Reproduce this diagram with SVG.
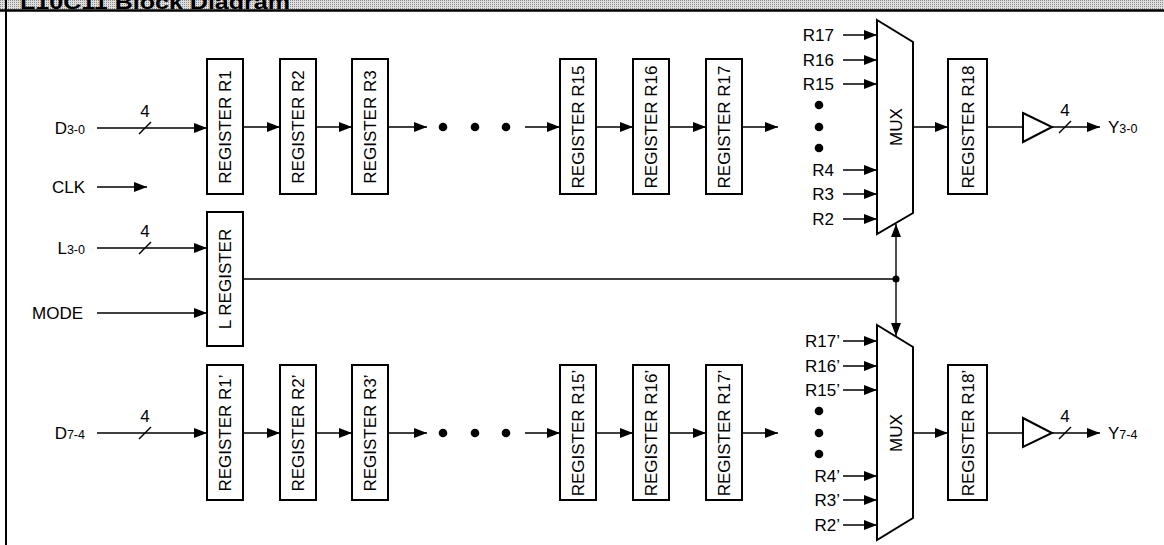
<svg xmlns="http://www.w3.org/2000/svg" width="1164" height="545" viewBox="0 0 1164 545">
<defs>
<style>
.t{font-family:"Liberation Sans",Arial,sans-serif;font-size:17px;fill:#000}
.s{font-size:12.5px}
.box{fill:#fff;stroke:#000;stroke-width:2}
.ln{stroke:#000;stroke-width:1.4;fill:none}
.ar{stroke:#000;stroke-width:1.4;fill:none;marker-end:url(#ah)}
.dot{fill:#000}
</style>
<marker id="ah" markerWidth="13" markerHeight="10" refX="13" refY="5" orient="auto" markerUnits="userSpaceOnUse"><path d="M0,0 L13,5 L0,10 z" fill="#000"/></marker>
<pattern id="dither" width="2" height="2" patternUnits="userSpaceOnUse"><rect width="2" height="2" fill="#dedede"/><rect width="1" height="1" fill="#8c8c8c"/></pattern>
<clipPath id="tclip"><rect x="0" y="0" width="1164" height="9.5"/></clipPath>
</defs>
<rect width="1164" height="545" fill="#fff"/>
<g id="frame">
<rect x="0" y="0" width="1164" height="10" fill="url(#dither)"/>
<text x="20" y="9" clip-path="url(#tclip)" style="font-family:'Liberation Sans',Arial,sans-serif;font-weight:bold;font-size:21px" textLength="270" lengthAdjust="spacingAndGlyphs">L10C11 Block Diagram</text>
<line x1="0" y1="10.5" x2="1164" y2="10.5" stroke="#000" stroke-width="2.5"/>
<line x1="6" y1="0" x2="6" y2="545" stroke="#000" stroke-width="2"/>
</g>
<g id="connectors">
<line class="ar" x1="97" y1="128" x2="207" y2="128"/>
<line class="ln" x1="139" y1="134" x2="151" y2="122"/>
<line class="ar" x1="97" y1="187" x2="147" y2="187"/>
<line class="ar" x1="97" y1="248" x2="207" y2="248"/>
<line class="ln" x1="139" y1="254" x2="151" y2="242"/>
<line class="ar" x1="97" y1="313" x2="207" y2="313"/>
<line class="ar" x1="97" y1="433" x2="207" y2="433"/>
<line class="ln" x1="139" y1="439" x2="151" y2="427"/>
<line class="ar" x1="244" y1="127" x2="280" y2="127"/>
<line class="ar" x1="317" y1="127" x2="352" y2="127"/>
<line class="ar" x1="389" y1="127" x2="427" y2="127"/>
<line class="ar" x1="525" y1="127" x2="560" y2="127"/>
<line class="ar" x1="597" y1="127" x2="633" y2="127"/>
<line class="ar" x1="670" y1="127" x2="706" y2="127"/>
<line class="ar" x1="743" y1="127" x2="778" y2="127"/>
<line class="ar" x1="244" y1="433" x2="280" y2="433"/>
<line class="ar" x1="317" y1="433" x2="352" y2="433"/>
<line class="ar" x1="389" y1="433" x2="427" y2="433"/>
<line class="ar" x1="525" y1="433" x2="560" y2="433"/>
<line class="ar" x1="597" y1="433" x2="633" y2="433"/>
<line class="ar" x1="670" y1="433" x2="706" y2="433"/>
<line class="ar" x1="743" y1="433" x2="778" y2="433"/>
<line class="ar" x1="843" y1="35" x2="877" y2="35"/>
<line class="ar" x1="843" y1="60" x2="877" y2="60"/>
<line class="ar" x1="843" y1="84" x2="877" y2="84"/>
<line class="ar" x1="843" y1="170" x2="877" y2="170"/>
<line class="ar" x1="843" y1="194" x2="877" y2="194"/>
<line class="ar" x1="843" y1="219" x2="877" y2="219"/>
<line class="ar" x1="843" y1="341" x2="877" y2="341"/>
<line class="ar" x1="843" y1="366" x2="877" y2="366"/>
<line class="ar" x1="843" y1="390" x2="877" y2="390"/>
<line class="ar" x1="843" y1="476" x2="877" y2="476"/>
<line class="ar" x1="843" y1="500" x2="877" y2="500"/>
<line class="ar" x1="843" y1="525" x2="877" y2="525"/>
<line class="ar" x1="913" y1="127" x2="948" y2="127"/>
<line class="ar" x1="913" y1="433" x2="948" y2="433"/>
<line class="ln" x1="987" y1="127" x2="1023" y2="127"/>
<line class="ln" x1="987" y1="433" x2="1023" y2="433"/>
<line class="ar" x1="1052" y1="127" x2="1100" y2="127"/>
<line class="ln" x1="1059" y1="133" x2="1071" y2="121"/>
<line class="ar" x1="1052" y1="433" x2="1100" y2="433"/>
<line class="ln" x1="1059" y1="439" x2="1071" y2="427"/>
<line class="ln" x1="243" y1="279" x2="896" y2="279"/>
<line class="ar" x1="896" y1="279" x2="896" y2="224"/>
<line class="ar" x1="896" y1="279" x2="896" y2="336"/>
<circle class="dot" cx="896" cy="279" r="3.5"/>
</g>
<g id="inputs">
<text class="t" x="85" y="134" text-anchor="end">D<tspan class="s">3-0</tspan></text>
<text class="t" x="145" y="117" text-anchor="middle">4</text>
<text class="t" x="85" y="193" text-anchor="end">CLK</text>
<text class="t" x="85" y="254" text-anchor="end">L<tspan class="s">3-0</tspan></text>
<text class="t" x="145" y="237" text-anchor="middle">4</text>
<text class="t" x="83" y="319" text-anchor="end">MODE</text>
<text class="t" x="85" y="439" text-anchor="end">D<tspan class="s">7-4</tspan></text>
<text class="t" x="145" y="422" text-anchor="middle">4</text>
</g>
<g id="reg-L"><rect class="box" x="207" y="212" width="36" height="134"/><text class="t" transform="translate(225,279) rotate(-90)" text-anchor="middle" dy="0.36em">L REGISTER</text></g>
<g id="reg-R1"><rect class="box" x="207" y="59" width="36" height="135"/><text class="t" transform="translate(225,127) rotate(-90)" text-anchor="middle" dy="0.36em">REGISTER R1</text></g>
<g id="reg-R2"><rect class="box" x="280" y="59" width="36" height="135"/><text class="t" transform="translate(298,127) rotate(-90)" text-anchor="middle" dy="0.36em">REGISTER R2</text></g>
<g id="reg-R3"><rect class="box" x="352" y="59" width="36" height="135"/><text class="t" transform="translate(370,127) rotate(-90)" text-anchor="middle" dy="0.36em">REGISTER R3</text></g>
<g id="dots-top"><circle class="dot" cx="443" cy="127" r="4.3"/><circle class="dot" cx="475" cy="127" r="4.3"/><circle class="dot" cx="506" cy="127" r="4.3"/></g>
<g id="reg-R15"><rect class="box" x="560" y="59" width="36" height="135"/><text class="t" transform="translate(578,127) rotate(-90)" text-anchor="middle" dy="0.36em">REGISTER R15</text></g>
<g id="reg-R16"><rect class="box" x="633" y="59" width="36" height="135"/><text class="t" transform="translate(651,127) rotate(-90)" text-anchor="middle" dy="0.36em">REGISTER R16</text></g>
<g id="reg-R17"><rect class="box" x="706" y="59" width="36" height="135"/><text class="t" transform="translate(724,127) rotate(-90)" text-anchor="middle" dy="0.36em">REGISTER R17</text></g>
<g id="mux-top">
<polygon class="box" points="877,20 913,42 913,213 877,234"/>
<text class="t" transform="translate(896,127) rotate(-90)" text-anchor="middle" dy="0.36em">MUX</text>
<text class="t" x="834" y="41" text-anchor="end">R17</text>
<text class="t" x="834" y="66" text-anchor="end">R16</text>
<text class="t" x="834" y="90" text-anchor="end">R15</text>
<circle class="dot" cx="819" cy="105" r="4.3"/><circle class="dot" cx="819" cy="127" r="4.3"/><circle class="dot" cx="819" cy="148" r="4.3"/>
<text class="t" x="834" y="176" text-anchor="end">R4</text>
<text class="t" x="834" y="200" text-anchor="end">R3</text>
<text class="t" x="834" y="225" text-anchor="end">R2</text>
</g>
<g id="reg-R18"><rect class="box" x="948" y="59" width="39" height="135"/><text class="t" transform="translate(967.5,127) rotate(-90)" text-anchor="middle" dy="0.36em">REGISTER R18</text></g>
<g id="buf-top"><polygon class="box" points="1023,113 1052,127 1023,142"/></g>
<g id="out-top"><text class="t" x="1065" y="116" text-anchor="middle">4</text><text class="t" x="1108" y="133">Y<tspan class="s">3-0</tspan></text></g>
<g id="reg-R1p"><rect class="box" x="207" y="365" width="36" height="135"/><text class="t" transform="translate(225,433) rotate(-90)" text-anchor="middle" dy="0.36em">REGISTER R1’</text></g>
<g id="reg-R2p"><rect class="box" x="280" y="365" width="36" height="135"/><text class="t" transform="translate(298,433) rotate(-90)" text-anchor="middle" dy="0.36em">REGISTER R2’</text></g>
<g id="reg-R3p"><rect class="box" x="352" y="365" width="36" height="135"/><text class="t" transform="translate(370,433) rotate(-90)" text-anchor="middle" dy="0.36em">REGISTER R3’</text></g>
<g id="dots-bottom"><circle class="dot" cx="443" cy="433" r="4.3"/><circle class="dot" cx="475" cy="433" r="4.3"/><circle class="dot" cx="506" cy="433" r="4.3"/></g>
<g id="reg-R15p"><rect class="box" x="560" y="365" width="36" height="135"/><text class="t" transform="translate(578,433) rotate(-90)" text-anchor="middle" dy="0.36em">REGISTER R15’</text></g>
<g id="reg-R16p"><rect class="box" x="633" y="365" width="36" height="135"/><text class="t" transform="translate(651,433) rotate(-90)" text-anchor="middle" dy="0.36em">REGISTER R16’</text></g>
<g id="reg-R17p"><rect class="box" x="706" y="365" width="36" height="135"/><text class="t" transform="translate(724,433) rotate(-90)" text-anchor="middle" dy="0.36em">REGISTER R17’</text></g>
<g id="mux-bottom">
<polygon class="box" points="877,325 913,347 913,518 877,540"/>
<text class="t" transform="translate(896,433) rotate(-90)" text-anchor="middle" dy="0.36em">MUX</text>
<text class="t" x="840" y="347" text-anchor="end">R17’</text>
<text class="t" x="840" y="372" text-anchor="end">R16’</text>
<text class="t" x="840" y="396" text-anchor="end">R15’</text>
<circle class="dot" cx="819" cy="411" r="4.3"/><circle class="dot" cx="819" cy="433" r="4.3"/><circle class="dot" cx="819" cy="454" r="4.3"/>
<text class="t" x="840" y="482" text-anchor="end">R4’</text>
<text class="t" x="840" y="506" text-anchor="end">R3’</text>
<text class="t" x="840" y="531" text-anchor="end">R2’</text>
</g>
<g id="reg-R18p"><rect class="box" x="948" y="365" width="39" height="135"/><text class="t" transform="translate(967.5,433) rotate(-90)" text-anchor="middle" dy="0.36em">REGISTER R18’</text></g>
<g id="buf-bottom"><polygon class="box" points="1023,418 1052,433 1023,447"/></g>
<g id="out-bottom"><text class="t" x="1065" y="422" text-anchor="middle">4</text><text class="t" x="1108" y="439">Y<tspan class="s">7-4</tspan></text></g>
</svg>
